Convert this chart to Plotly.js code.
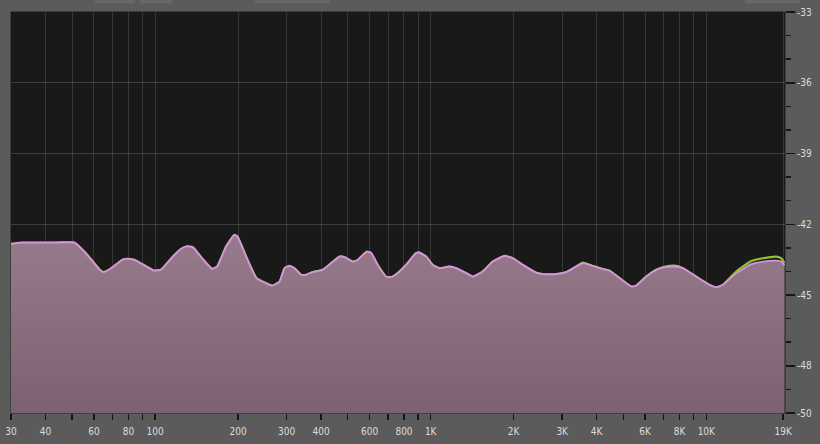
<!DOCTYPE html>
<html>
<head>
<meta charset="utf-8">
<script src="https://cdn.plot.ly/plotly-3.0.1.min.js"></script>
<style>
  html, body { margin: 0; padding: 0; background: #5b5b5b; }
  #myDiv { width: 820px; height: 444px; }
</style>
</head>
<body>
<div id="myDiv"></div>
<script>
// spectrum (Hz / dB)
var freqHz = [30, 33, 41, 51, 56, 63, 65, 68, 76, 79, 84, 93, 99, 105, 116, 124, 130, 137, 148, 161,
    168, 181, 194, 199, 214, 233, 253, 266, 283, 295, 307, 320, 339, 353, 373, 406, 435, 467, 486, 521,
    544, 586, 608, 642, 689, 718, 759, 814, 885, 910, 963, 1017, 1076, 1169, 1237, 1345, 1421, 1545, 1680, 1852,
    1985, 2158, 2414, 2551, 2853, 3102, 3372, 3565, 3769, 4098, 4455, 4842, 5342, 5568, 6053, 6581, 7155, 7668, 8219, 9193,
    10275, 10866, 11485, 12845, 14560, 16045, 17945, 18711, 19230];

var levelDb = [-42.83, -42.78, -42.78, -42.78, -43.22, -43.93, -44.03, -43.93, -43.51, -43.47, -43.51, -43.79, -43.96, -43.93, -43.37, -43.05, -42.94, -42.97, -43.44, -43.89,
    -43.79, -42.94, -42.45, -42.52, -43.37, -44.28, -44.50, -44.60, -44.43, -43.86, -43.76, -43.86, -44.14, -44.14, -44.03, -43.93, -43.65, -43.37, -43.39, -43.58,
    -43.51, -43.16, -43.22, -43.72, -44.22, -44.24, -44.07, -43.72, -43.22, -43.20, -43.37, -43.72, -43.86, -43.79, -43.86, -44.07, -44.22, -44.00, -43.58, -43.34,
    -43.44, -43.72, -44.05, -44.11, -44.11, -44.03, -43.79, -43.65, -43.72, -43.86, -43.97, -44.28, -44.64, -44.60, -44.22, -43.93, -43.82, -43.79, -43.86, -44.22,
    -44.57, -44.67, -44.57, -44.07, -43.69, -43.58, -43.54, -43.58, -43.75];

// green hold curve, only shows above the live one at the top end
var holdDb = [-42.83, -42.78, -42.78, -42.78, -43.22, -43.93, -44.03, -43.93, -43.51, -43.47, -43.51, -43.79, -43.96, -43.93, -43.37, -43.05, -42.94, -42.97, -43.44, -43.89,
    -43.79, -42.94, -42.45, -42.52, -43.37, -44.28, -44.50, -44.60, -44.43, -43.86, -43.76, -43.86, -44.14, -44.14, -44.03, -43.93, -43.65, -43.37, -43.39, -43.58,
    -43.51, -43.16, -43.22, -43.72, -44.22, -44.24, -44.07, -43.72, -43.22, -43.20, -43.37, -43.72, -43.86, -43.79, -43.86, -44.07, -44.22, -44.00, -43.58, -43.34,
    -43.44, -43.72, -44.05, -44.11, -44.11, -44.03, -43.79, -43.62, -43.72, -43.86, -43.97, -44.28, -44.64, -44.60, -44.22, -43.93, -43.78, -43.75, -43.86, -44.22,
    -44.57, -44.67, -44.57, -44.00, -43.56, -43.44, -43.37, -43.44, -43.65];

var freqTicks = [30, 40, 50, 60, 70, 80, 90, 100, 200, 300, 400, 500, 600, 700, 800, 900,
    1000, 2000, 3000, 4000, 5000, 6000, 7000, 8000, 9000, 10000, 19000];
var freqLabels = ["30", "40", "", "60", "", "80", "", "100", "200", "300", "400", "", "600", "", "800", "",
    "1K", "2K", "3K", "4K", "", "6K", "", "8K", "", "10K", "19K"];

var dbTicks = [-33, -36, -39, -42, -45, -48, -50];
var dbLabels = ["-33", "-36", "-39", "-42", "-45", "-48", "-50"];

var floorDb = -50;

var labelFont = {
    family: "'Liberation Sans Narrow', 'DejaVu Sans Condensed', 'Arial Narrow', sans-serif",
    size: 10,
    color: "#dcdcdc"
};

var hold = {
    x: freqHz, y: holdDb,
    mode: 'lines',
    line: {color: '#93c22e', width: 2.2, shape: 'spline', smoothing: 0.4},
    hoverinfo: 'skip',
    type: 'scatter'
};

var floor = {
    x: [freqHz[0], freqHz[freqHz.length - 1]],
    y: [floorDb, floorDb],
    mode: 'lines',
    line: {width: 0},
    hoverinfo: 'skip',
    type: 'scatter'
};

var live = {
    x: freqHz, y: levelDb,
    mode: 'lines',
    fill: 'tonexty',
    fillgradient: {
        type: 'vertical',
        start: -50, stop: -42.5,
        colorscale: [[0, '#7b6171'], [1, '#977b8c']]
    },
    line: {color: '#d892e2', width: 1.8, shape: 'spline', smoothing: 0.4},
    hoverinfo: 'skip',
    type: 'scatter'
};

// faint cut-off buttons along the top edge
function topButton(x0, x1) {
    return {
        type: 'rect', xref: 'paper', yref: 'paper',
        x0: (x0 - 11) / 774, x1: (x1 - 11) / 774,
        y0: 1.022, y1: 1.04,
        fillcolor: '#676767', line: {width: 0}, layer: 'below'
    };
}

var layout = {
    width: 820, height: 444,
    margin: {l: 11, r: 35, t: 12, b: 31},
    paper_bgcolor: '#5b5b5b',
    plot_bgcolor: '#191919',
    showlegend: false,
    hovermode: false,
    xaxis: {
        type: 'log',
        range: [Math.log10(30), Math.log10(19300)],
        tickmode: 'array', tickvals: freqTicks, ticktext: freqLabels,
        ticks: 'outside', ticklen: 6, tickwidth: 1.5, tickcolor: '#151515',
        ticklabelstandoff: 3,
        tickfont: labelFont,
        showgrid: true, gridcolor: 'rgba(255,255,255,0.13)', gridwidth: 1,
        showline: true, mirror: true, linecolor: '#3e3e3e', linewidth: 1,
        zeroline: false, fixedrange: true,
        layer: 'above traces'
    },
    yaxis: {
        side: 'right',
        range: [-50, -33],
        tickmode: 'array', tickvals: dbTicks, ticktext: dbLabels,
        ticks: 'outside', ticklen: 9, tickwidth: 1.5, tickcolor: '#151515',
        tickfont: labelFont,
        minor: {tickmode: 'linear', tick0: -50, dtick: 1, ticks: 'outside', ticklen: 5, tickcolor: '#151515', showgrid: false},
        showgrid: true, gridcolor: 'rgba(255,255,255,0.16)', gridwidth: 1,
        showline: true, mirror: true, linecolor: '#3e3e3e', linewidth: 1,
        zeroline: false, fixedrange: true,
        layer: 'above traces'
    },
    shapes: [topButton(95, 135), topButton(140, 172), topButton(255, 330), topButton(745, 800)]
};

Plotly.newPlot("myDiv", [hold, floor, live], layout, {displayModeBar: false, staticPlot: true});
</script>
</body>
</html>
